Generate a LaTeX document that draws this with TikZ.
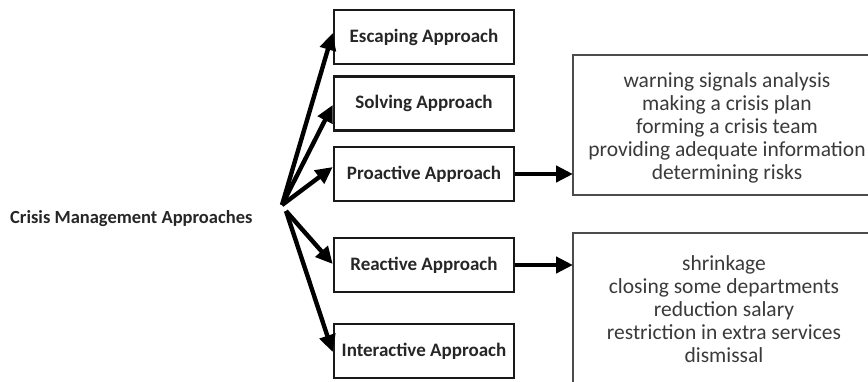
\documentclass[tikz,border=0pt]{standalone}
\usepackage{fontspec}
\setmainfont{Carlito}
\newfontfamily\condbold{Carlito}
\newfontfamily\listfont{Carlito}
\usetikzlibrary{arrows.meta}
\definecolor{txt}{HTML}{262626}
\definecolor{listtxt}{HTML}{3A3A3A}
\begin{document}
\begin{tikzpicture}[x=1pt,y=-1pt,
  appbox/.style={draw=black!90, line width=2.6pt, minimum width=180pt, minimum height=54pt,
    inner sep=0pt, font=\condbold\bfseries\fontsize{19}{22}\selectfont, text=txt},
  bigarrow/.style={line width=4.4pt, -{Triangle[length=17pt,width=16pt]}},
  listtext/.style={align=center, font=\listfont\fontsize{21.5}{23}\selectfont, text=listtxt, inner sep=0pt}]
\useasboundingbox (0,0) rectangle (868,381);
\clip (0,0) rectangle (868,381);
% left label
\node[font=\condbold\bfseries\fontsize{18.5}{20}\selectfont, text=txt, anchor=west, inner sep=0pt] (crisis) at (10,219) {Crisis Management Approaches};
\coordinate (hubu) at (282,205);
\coordinate (hubl) at (286,211);
% approach boxes
\node[appbox] (esc) at (424,37) {Escaping Approach};
\node[appbox] (sol) at (424,103.5) {Solving Approach};
\node[appbox] (pro) at (424,174) {Proactive Approach};
\node[appbox] (rea) at (424,265) {Reactive Approach};
\node[appbox] (int) at (424,351) {Interactive Approach};
% list boxes
\draw[line width=1.3pt, draw=black!70] (880,55) -- (573,55) -- (573,195) -- (880,195);
\draw[line width=1.3pt, draw=black!70] (880,233) -- (573,233) -- (573,390);
\node[listtext] (plist) at (727,128) {warning signals analysis\\making a crisis plan\\forming a crisis team\\providing adequate information\\determining risks};
\node[listtext] (rlist) at (724,309) {shrinkage\\closing some departments\\reduction salary\\restriction in extra services\\dismissal};
\coordinate (pin) at (573,174);
\coordinate (rin) at (573,265);
% arrows
\draw[bigarrow] (hubu) -- (esc.west |- 0,33);
\draw[bigarrow] (hubu) -- (sol.west |- 0,105);
\draw[bigarrow] (hubu) -- (pro.west |- 0,167);
\draw[bigarrow] (hubl) -- (rea.west |- 0,264);
\draw[bigarrow] (hubl) -- (int.west |- 0,352);
\draw[bigarrow] (pro.east) -- (pin);
\draw[bigarrow] (rea.east) -- (rin);
\end{tikzpicture}
\end{document}
